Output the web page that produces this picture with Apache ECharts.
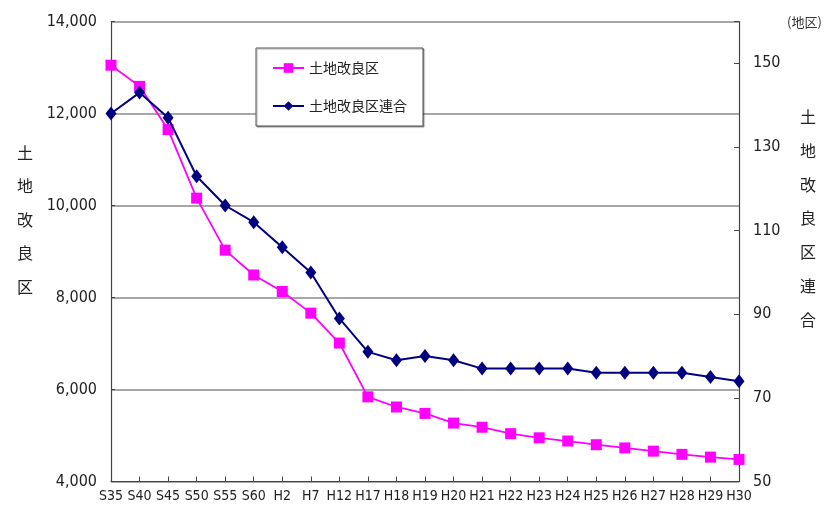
<!DOCTYPE html>
<html>
<head>
<meta charset="utf-8">
<script src="https://cdn.jsdelivr.net/npm/echarts@6/dist/echarts.min.js"></script>
<style>
  html, body { margin: 0; padding: 0; background: #fff; }
  #chart { width: 825px; height: 513px; }
</style>
</head>
<body>
<div id="chart"></div>
<script>
// 年度（昭和・平成）
const years = ['S35','S40','S45','S50','S55','S60','H2','H7','H12','H17','H18','H19','H20',
  'H21','H22','H23','H24','H25','H26','H27','H28','H29','H30'];

// 土地改良区数（左軸）
const districts = [13050, 12590, 11650, 10160, 9030, 8490, 8130, 7660, 7010, 5840, 5620, 5480, 5270,
  5180, 5040, 4950, 4880, 4800, 4730, 4660, 4590, 4530, 4480];

// 土地改良区連合数（右軸）
const federations = [138, 143, 137, 123, 116, 112, 106, 100, 89, 81, 79, 80, 79,
  77, 77, 77, 77, 76, 76, 76, 76, 75, 74];

// 軸目盛
const leftAxis = { min: 4000, max: 14000, step: 2000 };
const rightAxis = { min: 50, max: 160, step: 20 };

const narrow = "'DejaVu Sans Condensed', 'Liberation Sans Narrow', 'Liberation Sans', sans-serif";
const cjk = "'Noto Sans CJK JP', 'Noto Sans CJK SC', sans-serif";

const chart = echarts.init(document.getElementById('chart'), null, { renderer: 'canvas' });

chart.setOption({
  animation: false,
  backgroundColor: '#ffffff',
  grid: { left: 111, right: 86, top: 21.5, bottom: 31.5, containLabel: false },
  legend: {
    orient: 'vertical',
    left: 256,
    top: 48,
    padding: [13, 16, 13, 16],
    itemGap: 24,
    itemWidth: 31,
    itemHeight: 12,
    backgroundColor: '#ffffff',
    borderColor: '#555555',
    borderWidth: 1,
    shadowColor: 'rgba(0,0,0,0.35)',
    shadowOffsetX: 1,
    shadowOffsetY: 1,
    shadowBlur: 1,
    textStyle: { fontFamily: cjk, fontSize: 14, color: '#222' },
    data: ['土地改良区', '土地改良区連合']
  },
  xAxis: {
    type: 'category',
    data: years,
    boundaryGap: false,
    axisLine: { lineStyle: { color: '#444', width: 1.2 } },
    axisTick: { inside: true, length: 5, lineStyle: { color: '#444' } },
    axisLabel: { interval: 0, fontFamily: narrow, fontSize: 14, color: '#222', margin: 8 }
  },
  yAxis: [
    {
      type: 'value',
      min: leftAxis.min,
      max: leftAxis.max,
      interval: leftAxis.step,
      axisLine: { show: true, lineStyle: { color: '#444', width: 1.2 } },
      axisTick: { show: true, inside: true, length: 4, lineStyle: { color: '#444' } },
      axisLabel: {
        fontFamily: narrow, fontSize: 16, color: '#222', margin: 14,
        formatter: v => v.toLocaleString('en-US')
      },
      splitLine: { show: true, lineStyle: { color: '#8a8a8a', width: 1.6 } }
    },
    {
      type: 'value',
      min: rightAxis.min,
      max: rightAxis.max,
      interval: rightAxis.step,
      axisLine: { show: true, lineStyle: { color: '#444', width: 1.2 } },
      axisTick: { show: true, inside: true, length: 5, lineStyle: { color: '#444' } },
      axisLabel: {
        fontFamily: narrow, fontSize: 16, color: '#222', margin: 14,
        formatter: v => (v > 150 ? '' : String(v))
      },
      splitLine: { show: false }
    }
  ],
  series: [
    {
      name: '土地改良区',
      type: 'line',
      yAxisIndex: 0,
      data: districts,
      symbol: 'rect',
      symbolSize: 11,
      lineStyle: { color: '#ff00ff', width: 1.8 },
      itemStyle: { color: '#ff00ff' },
      z: 3
    },
    {
      name: '土地改良区連合',
      type: 'line',
      yAxisIndex: 1,
      data: federations,
      symbol: 'diamond',
      symbolSize: [11, 14],
      lineStyle: { color: '#000080', width: 2 },
      itemStyle: { color: '#000080' },
      z: 4
    }
  ],
  graphic: [
    {
      type: 'text', left: 17, top: 136,
      style: { text: '土\n地\n改\n良\n区', font: '16px ' + cjk, lineHeight: 33.5, fill: '#222', textAlign: 'left' }
    },
    {
      type: 'text', left: 800, top: 100,
      style: { text: '土\n地\n改\n良\n区\n連\n合', font: '16px ' + cjk, lineHeight: 33.8, fill: '#222', textAlign: 'left' }
    },
    {
      type: 'text', left: 787, top: 16,
      style: { text: '(地区)', font: '13px ' + cjk, fill: '#333' }
    }
  ]
});
</script>
</body>
</html>
